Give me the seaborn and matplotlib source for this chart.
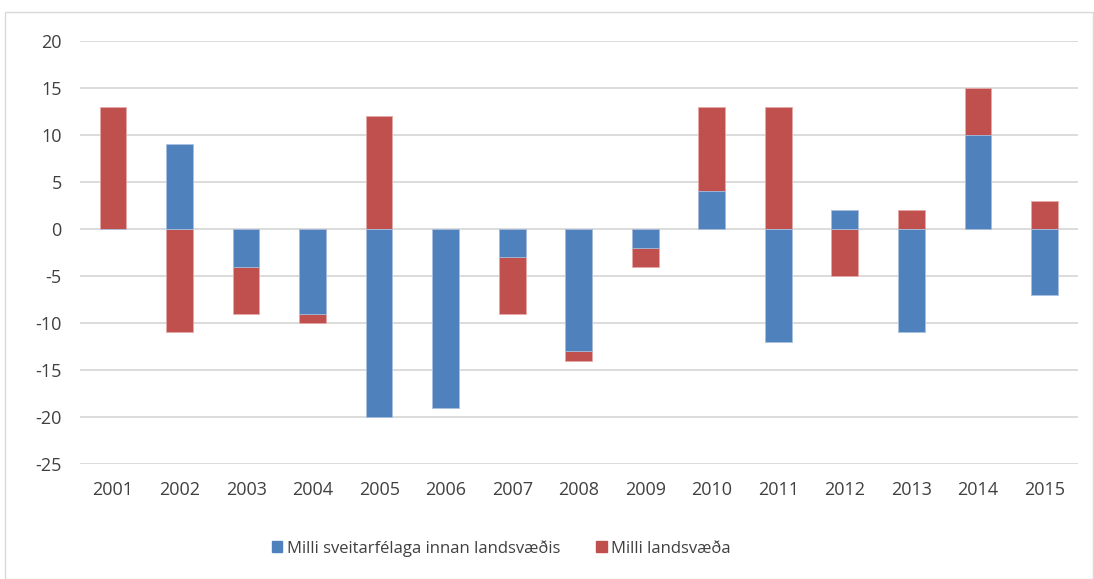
import matplotlib
matplotlib.use("Agg")
import matplotlib.pyplot as plt
import seaborn as sns
import pandas as pd
import numpy as np
from matplotlib.patches import Rectangle, Patch

years = ["2001", "2002", "2003", "2004", "2005", "2006", "2007", "2008",
         "2009", "2010", "2011", "2012", "2013", "2014", "2015"]
innan = [0, 9, -4, -9, -20, -19, -3, -13, -2, 4, -12, 2, -11, 10, -7]
milli = [13, -11, -5, -1, 12, 0, -6, -1, -2, 9, 13, -5, 2, 5, 3]

label_innan = "Milli sveitarfélaga innan landsvæðis"
label_milli = "Milli landsvæða"
c_blue = "#4F81BD"
c_red = "#C0504D"
txt = "#404040"

sns.set_theme(style="white")
plt.rcParams['font.family'] = ['Open Sans', 'DejaVu Sans']
plt.rcParams['axes.unicode_minus'] = False

# stacked tops for red (stacked on blue when same sign)
red_top = [b + r if (b * r > 0) else r for b, r in zip(innan, milli)]

df_red = pd.DataFrame({"year": years, "val": red_top})
df_blue = pd.DataFrame({"year": years, "val": innan})

fig = plt.figure(figsize=(10.94, 5.79), dpi=100)
ax = fig.add_axes([0.073, 0.1986, 0.912, 0.7305])

sns.barplot(data=df_red, x="year", y="val", color=c_red, saturation=1,
            width=0.4, ax=ax, edgecolor="#E6A9A7", linewidth=0.6, zorder=3)
sns.barplot(data=df_blue, x="year", y="val", color=c_blue, saturation=1,
            width=0.4, ax=ax, edgecolor="#A9C0E0", linewidth=0.6, zorder=4)

ax.set_ylim(-25, 20)
ax.set_xlim(-0.5, len(years) - 0.5)
ax.set_yticks(np.arange(-25, 21, 5))
ax.yaxis.grid(True, color="#D9D9D9", linewidth=1.3, zorder=0)
ax.set_axisbelow(True)
for s in ax.spines.values():
    s.set_visible(False)
ax.set_xlabel("")
ax.set_ylabel("")
ax.tick_params(axis="both", length=0, labelsize=13, colors=txt)
ax.tick_params(axis="y", pad=13)
ax.tick_params(axis="x", pad=12)

handles = [Patch(color=c_blue, label=label_innan), Patch(color=c_red, label=label_milli)]
leg = fig.legend(handles=handles, loc="center", bbox_to_anchor=(0.458, 0.053),
                 ncol=2, frameon=False, fontsize=12, handlelength=0.65,
                 handleheight=0.65, handletextpad=0.25, columnspacing=2.15)
for t in leg.get_texts():
    t.set_color(txt)

fig.patches.append(Rectangle((5 / 1094, 0), 1 - 5 / 1094 - 0.001, 1 - 12 / 579,
                             transform=fig.transFigure, fill=False,
                             edgecolor="#D9D9D9", linewidth=1))

fig.savefig("out.png", dpi=100)
